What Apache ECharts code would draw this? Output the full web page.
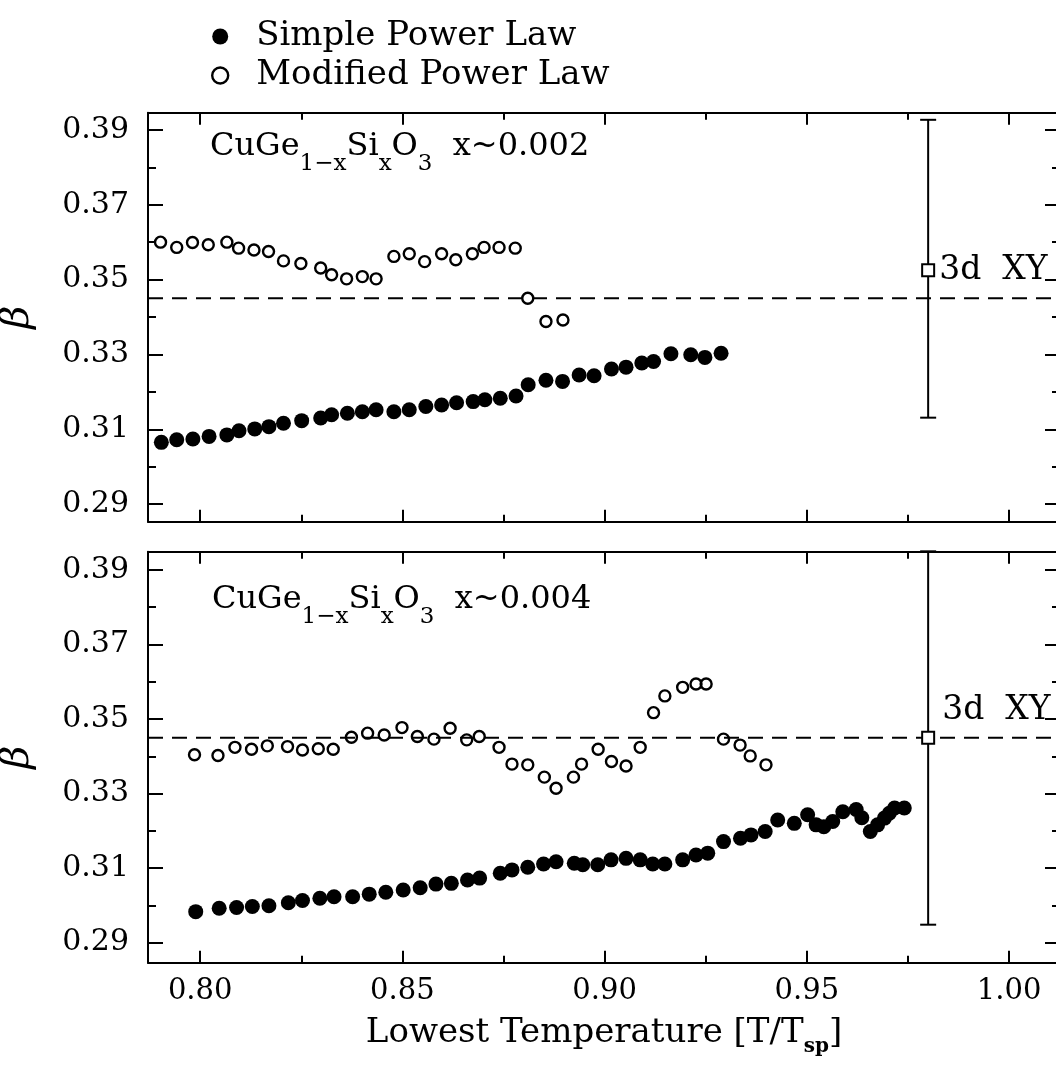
<!DOCTYPE html>
<html>
<head>
<meta charset="utf-8">
<script src="https://cdn.jsdelivr.net/npm/echarts@6/dist/echarts.min.js"></script>
<style>
  html, body { margin: 0; padding: 0; background: #fff; }
  #chart { width: 1056px; height: 1070px; }
</style>
</head>
<body>
<div id="chart"></div>
<script>
// ---- data ----
const topSimple = [
  [0.7904,0.3065],[0.7942,0.3072],[0.7982,0.3074],[0.8022,0.3081],[0.8066,0.3085],[0.8096,0.3096],
  [0.8135,0.3101],[0.8170,0.3107],[0.8206,0.3116],[0.8251,0.3123],[0.8298,0.3130],[0.8325,0.3139],
  [0.8364,0.3143],[0.8401,0.3147],[0.8435,0.3152],[0.8479,0.3147],[0.8517,0.3152],[0.8558,0.3161],
  [0.8597,0.3165],[0.8634,0.3171],[0.8675,0.3174],[0.8704,0.3179],[0.8742,0.3183],[0.8781,0.3189],
  [0.8811,0.3219],[0.8855,0.3231],[0.8896,0.3228],[0.8937,0.3245],[0.8974,0.3243],[0.9017,0.3261],
  [0.9053,0.3266],[0.9092,0.3277],[0.9121,0.3281],[0.9164,0.3302],[0.9213,0.3299],[0.9248,0.3292],
  [0.9288,0.3303]
];
const topModified = [
  [0.7902,0.3600],[0.7942,0.3586],[0.7981,0.3599],[0.8020,0.3593],[0.8066,0.3600],[0.8095,0.3584],
  [0.8133,0.3579],[0.8169,0.3575],[0.8206,0.3550],[0.8249,0.3543],[0.8298,0.3531],[0.8325,0.3513],
  [0.8362,0.3502],[0.8401,0.3508],[0.8435,0.3502],[0.8479,0.3562],[0.8517,0.3569],[0.8555,0.3548],
  [0.8597,0.3569],[0.8632,0.3553],[0.8673,0.3569],[0.8702,0.3586],[0.8739,0.3586],[0.8779,0.3584],
  [0.8810,0.3450],[0.8855,0.3388],[0.8897,0.3392]
];
const bottomSimple = [
  [0.7989,0.2983],[0.8047,0.2992],[0.8090,0.2994],[0.8129,0.2997],[0.8170,0.2999],[0.8218,0.3007],
  [0.8253,0.3013],[0.8296,0.3019],[0.8331,0.3023],[0.8377,0.3023],[0.8418,0.3030],[0.8459,0.3035],
  [0.8502,0.3041],[0.8544,0.3047],[0.8583,0.3057],[0.8621,0.3059],[0.8661,0.3068],[0.8691,0.3073],
  [0.8742,0.3086],[0.8771,0.3095],[0.8810,0.3102],[0.8849,0.3111],[0.8880,0.3117],[0.8925,0.3113],
  [0.8946,0.3109],[0.8983,0.3109],[0.9016,0.3122],[0.9053,0.3126],[0.9088,0.3122],[0.9119,0.3111],
  [0.9149,0.3111],[0.9193,0.3122],[0.9226,0.3135],[0.9255,0.3140],[0.9294,0.3171],[0.9336,0.3180],
  [0.9362,0.3189],[0.9397,0.3198],[0.9428,0.3229],[0.9469,0.3220],[0.9502,0.3243],[0.9523,0.3216],
  [0.9542,0.3211],[0.9564,0.3225],[0.9589,0.3251],[0.9622,0.3257],[0.9636,0.3235],[0.9657,0.3198],
  [0.9675,0.3216],[0.9692,0.3234],[0.9704,0.3247],[0.9717,0.3261],[0.9741,0.3261]
];
const bottomModified = [
  [0.7986,0.3404],[0.8044,0.3402],[0.8086,0.3424],[0.8127,0.3419],[0.8166,0.3428],[0.8216,0.3426],
  [0.8253,0.3417],[0.8292,0.3420],[0.8329,0.3419],[0.8374,0.3451],[0.8414,0.3462],[0.8455,0.3457],
  [0.8499,0.3477],[0.8537,0.3453],[0.8578,0.3446],[0.8618,0.3475],[0.8659,0.3444],[0.8690,0.3453],
  [0.8739,0.3424],[0.8771,0.3379],[0.8810,0.3377],[0.8851,0.3344],[0.8880,0.3314],[0.8923,0.3344],
  [0.8943,0.3379],[0.8984,0.3419],[0.9017,0.3386],[0.9053,0.3374],[0.9088,0.3424],[0.9121,0.3517],
  [0.9149,0.3562],[0.9193,0.3585],[0.9226,0.3594],[0.9251,0.3594],[0.9294,0.3446],[0.9335,0.3430],
  [0.9360,0.3401],[0.9399,0.3377]
];
// 3d XY reference value: [x, beta, low, high]
const topXY = [[0.98, 0.3525, 0.3131, 0.3927]];
const bottomXY = [[0.98, 0.345, 0.2948, 0.395]];
const xyBeta = 0.345;

const xMajor = [0.80, 0.85, 0.90, 0.95, 1.00];
const xMinor = [0.825, 0.875, 0.925, 0.975];
const yMajor = [0.29, 0.31, 0.33, 0.35, 0.37, 0.39];
const yMinor = [0.30, 0.32, 0.34, 0.36, 0.38];

const xRange = [0.7871, 1.0126];
const yRanges = [[0.2853, 0.3946], [0.2846, 0.3949]];

const FONT = 'DejaVu Serif';

function xAx(g, pos, ticks, len, line, labels) {
  return {
    type: 'value', gridIndex: g, position: pos, min: xRange[0], max: xRange[1],
    axisLine: { show: line, onZero: false, lineStyle: { color: '#000', width: 2 } },
    axisTick: { show: true, inside: true, length: len, customValues: ticks, lineStyle: { color: '#000', width: 2 } },
    axisLabel: { show: labels, customValues: ticks, margin: 14, color: '#000', fontSize: 29, fontFamily: FONT,
      formatter: v => v.toFixed(2) },
    splitLine: { show: false }
  };
}
function yAx(g, pos, ticks, len, line, labels) {
  const ax = {
    type: 'value', gridIndex: g, position: pos, min: yRanges[g][0], max: yRanges[g][1],
    axisLine: { show: line, onZero: false, lineStyle: { color: '#000', width: 2 } },
    axisTick: { show: true, inside: true, length: len, customValues: ticks, lineStyle: { color: '#000', width: 2 } },
    axisLabel: { show: labels, customValues: ticks, margin: 19, color: '#000', fontSize: 30, fontFamily: FONT,
      formatter: v => v.toFixed(2) },
    splitLine: { show: false }
  };
  if (labels) {
    ax.name = 'β';
    ax.nameLocation = 'middle';
    ax.nameRotate = 90;
    ax.nameGap = 110;
    ax.nameTextStyle = { fontFamily: FONT, fontSize: 40, fontStyle: 'italic', color: '#000' };
  }
  return ax;
}

const xAxes = [], yAxes = [];
[0, 1].forEach(g => {
  xAxes.push(xAx(g, 'bottom', xMajor, 12, true, g === 1));
  xAxes.push(xAx(g, 'bottom', xMinor, 7, false, false));
  xAxes.push(xAx(g, 'top', xMajor, 12, true, false));
  xAxes.push(xAx(g, 'top', xMinor, 7, false, false));
  yAxes.push(yAx(g, 'left', yMajor, 15, true, true));
  yAxes.push(yAx(g, 'left', yMinor, 8, false, false));
  yAxes.push(yAx(g, 'right', yMajor, 15, true, false));
  yAxes.push(yAx(g, 'right', yMinor, 8, false, false));
});
xAxes[4].name = '{m|Lowest Temperature [T/T}{s|sp}{m|]}';
xAxes[4].nameLocation = 'middle';
xAxes[4].nameGap = 46;
xAxes[4].nameTextStyle = {
  color: '#000',
  rich: {
    m: { fontFamily: FONT, fontSize: 34, color: '#000' },
    s: { fontFamily: FONT, fontSize: 20, fontWeight: 'bold', color: '#000', padding: [28, 0, 0, 0] }
  }
};

const openStyle = { color: 'rgba(0,0,0,0)', borderColor: '#000', borderWidth: 2.4, opacity: 1 };
const fillStyle = { color: '#000', opacity: 1 };
const XY_LABEL = '3d  XY';

function errBar(dx, dy) {
  return function (params, api) {
    const x = api.value(0);
    const c = api.coord([x, api.value(1)]);
    const lo = api.coord([x, api.value(2)]);
    const hi = api.coord([x, api.value(3)]);
    const ls = { stroke: '#000', lineWidth: 2 };
    return {
      type: 'group',
      children: [
        { type: 'line', shape: { x1: lo[0], y1: lo[1], x2: hi[0], y2: hi[1] }, style: ls },
        { type: 'line', shape: { x1: lo[0] - 8, y1: lo[1], x2: lo[0] + 8, y2: lo[1] }, style: ls },
        { type: 'line', shape: { x1: hi[0] - 8, y1: hi[1], x2: hi[0] + 8, y2: hi[1] }, style: ls },
        { type: 'rect', shape: { x: c[0] - 6, y: c[1] - 6, width: 12, height: 12 },
          style: { fill: '#fff', stroke: '#000', lineWidth: 2 } },
        { type: 'text', x: c[0] + dx, y: c[1] + dy,
          style: { text: XY_LABEL, font: '33px "DejaVu Serif"', fill: '#000', align: 'left', verticalAlign: 'middle' } }
      ]
    };
  };
}

function dashSeries(axisIdx) {
  return {
    type: 'line', xAxisIndex: axisIdx, yAxisIndex: axisIdx, silent: true, symbol: 'none', z: 1,
    lineStyle: { color: '#000', width: 2, type: [15, 9] },
    data: [[xRange[0], xyBeta], [xRange[1], xyBeta]]
  };
}

const annoRich = {
  m: { fontFamily: FONT, fontSize: 32, color: '#000' },
  s: { fontFamily: FONT, fontSize: 23, color: '#000', padding: [34, 0, 0, 0] }
};

const chart = echarts.init(document.getElementById('chart'));
chart.setOption({
  animation: false,
  backgroundColor: '#fff',
  legend: {
    orient: 'vertical', left: 206, top: 13, itemWidth: 38, itemHeight: 16, itemGap: 2,
    selectedMode: false,
    textStyle: { fontFamily: FONT, fontSize: 34, color: '#000', lineHeight: 37, padding: [0, 0, 0, 12] },
    data: [
      { name: 'Simple Power Law', icon: 'circle', itemStyle: fillStyle },
      { name: 'Modified Power Law', icon: 'circle', itemStyle: openStyle }
    ]
  },
  grid: [
    { left: 148, right: -4, top: 112.7, height: 409, outerBoundsMode: 'none' },
    { left: 148, right: -4, top: 551.7, height: 411, outerBoundsMode: 'none' }
  ],
  xAxis: xAxes,
  yAxis: yAxes,
  graphic: [
    { type: 'text', x: 210, y: 147,
      style: { text: '{m|CuGe}{s|1−x}{m|Si}{s|x}{m|O}{s|3}{m|  x~0.002}', rich: annoRich, align: 'left', verticalAlign: 'middle' } },
    { type: 'text', x: 212, y: 600,
      style: { text: '{m|CuGe}{s|1−x}{m|Si}{s|x}{m|O}{s|3}{m|  x~0.004}', rich: annoRich, align: 'left', verticalAlign: 'middle' } }
  ],
  series: [
    dashSeries(0),
    dashSeries(4),
    { name: 'Simple Power Law', type: 'scatter', xAxisIndex: 0, yAxisIndex: 0, data: topSimple,
      symbol: 'circle', symbolSize: 15, itemStyle: fillStyle },
    { name: 'Modified Power Law', type: 'scatter', xAxisIndex: 0, yAxisIndex: 0, data: topModified,
      symbol: 'circle', symbolSize: 11, itemStyle: openStyle },
    { name: 'Simple Power Law', type: 'scatter', xAxisIndex: 4, yAxisIndex: 4, data: bottomSimple,
      symbol: 'circle', symbolSize: 15, itemStyle: fillStyle },
    { name: 'Modified Power Law', type: 'scatter', xAxisIndex: 4, yAxisIndex: 4, data: bottomModified,
      symbol: 'circle', symbolSize: 11, itemStyle: openStyle },
    { type: 'custom', xAxisIndex: 0, yAxisIndex: 0, data: topXY, renderItem: errBar(11, 0), z: 5 },
    { type: 'custom', xAxisIndex: 4, yAxisIndex: 4, data: bottomXY, renderItem: errBar(14, -27), z: 5 }
  ]
});
</script>
</body>
</html>
